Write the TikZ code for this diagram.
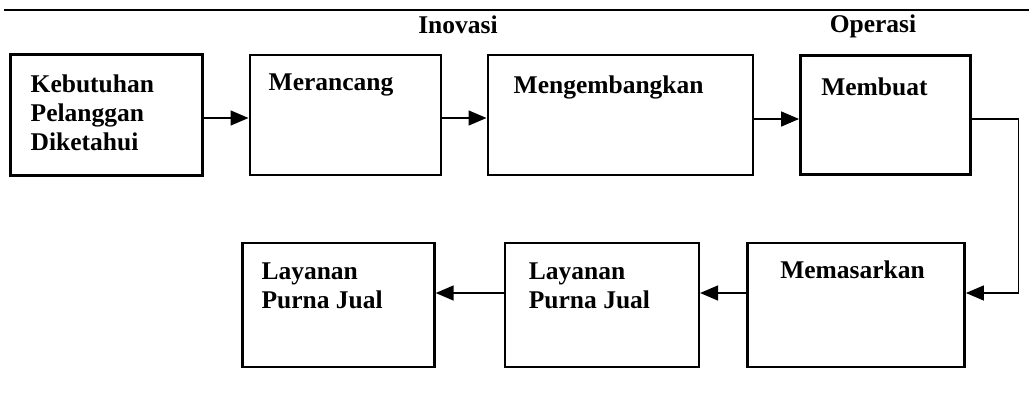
\documentclass[tikz,border=0pt]{standalone}
\usepackage{fontspec}
\setmainfont{Liberation Serif}
\usepackage{tikz}
\usetikzlibrary{arrows.meta,positioning}

\begin{document}
\begin{tikzpicture}[x=1pt,y=-1pt,
box/.style={draw,line width=2.4pt,inner sep=0pt},
boxtext/.style={inner sep=0pt,align=left,font=\fontsize{25.5}{29}\selectfont\bfseries},
head/.style={inner sep=0pt,font=\fontsize{25.5}{29}\selectfont\bfseries},
flow/.style={line width=1.5pt,-{Triangle[length=18pt,width=15pt]}}]
\useasboundingbox (0,0) rectangle (1029,413);
\draw[line width=1.8pt] (4,10) -- (1029,10);
\node[head,anchor=base] (inovasi) at (458,33) {Inovasi};
\node[head,anchor=base] (operasi) at (873,32) {Operasi};

\node[box,minimum width=192pt,minimum height=121pt,line width=3pt] (kebutuhan) at (106,115) {};
\node[box,minimum width=191pt,minimum height=120pt,line width=2pt,right=45pt of kebutuhan] (merancang) {};
\node[box,minimum width=265pt,minimum height=120pt,line width=2.6pt,right=45pt of merancang] (mengembangkan) {};
\node[box,minimum width=170pt,minimum height=119pt,right=45pt of mengembangkan] (membuat) {};
\node[box,minimum width=217pt,minimum height=124pt,line width=2.8pt] (memasarkan) at (856,305) {};
\node[box,minimum width=194pt,minimum height=124pt,left=46pt of memasarkan] (purna2) {};
\node[box,minimum width=192pt,minimum height=124pt,left=68pt of purna2] (purna1) {};

\node[boxtext,anchor=north west] (kebutuhanT) at ([xshift=22pt,yshift=-22pt]kebutuhan.north west) {Kebutuhan\\Pelanggan\\Diketahui};
\node[boxtext,anchor=north west] (merancangT) at ([xshift=20pt,yshift=-20pt]merancang.north west) {Merancang};
\node[boxtext,anchor=north west] (mengembangkanT) at ([xshift=27pt,yshift=-22pt]mengembangkan.north west) {Mengembangkan};
\node[boxtext,anchor=north west] (membuatT) at ([xshift=22pt,yshift=-23pt]membuat.north west) {Membuat};
\node[boxtext,anchor=north west] (memasarkanT) at ([xshift=34pt,yshift=-19pt]memasarkan.north west) {Memasarkan};
\node[boxtext,anchor=north west] (purna2T) at ([xshift=25pt,yshift=-21pt]purna2.north west) {Layanan\\Purna Jual};
\node[boxtext,anchor=north west] (purna1T) at ([xshift=20pt,yshift=-21pt]purna1.north west) {Layanan\\Purna Jual};

\draw[flow] ([yshift=-3pt]kebutuhan.east) -- ([yshift=-3pt]merancang.west);
\draw[flow] ([yshift=-3pt]merancang.east) -- ([yshift=-3pt]merancang.east -| mengembangkan.west);
\draw[flow] ([yshift=-4pt]mengembangkan.east) -- ([yshift=-4pt]mengembangkan.east -| membuat.west);
\draw[flow] ([yshift=-4pt]membuat.east) -- ++(47pt,0) |- ([yshift=12pt]memasarkan.east);
\draw[flow] ([yshift=12pt]memasarkan.west) -- ([yshift=12pt]purna2.east);
\draw[flow] ([yshift=12pt]purna2.west) -- ([yshift=12pt]purna1.east);
\end{tikzpicture}
\end{document}
